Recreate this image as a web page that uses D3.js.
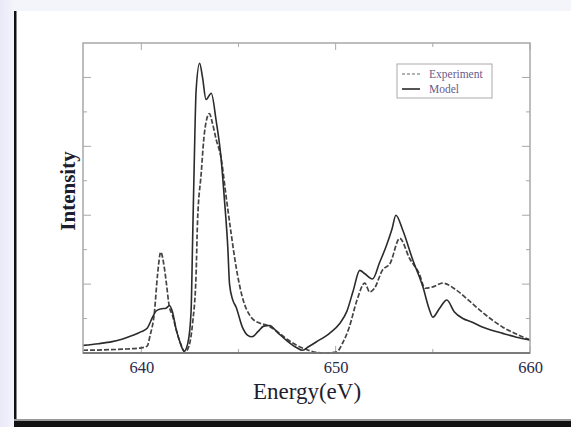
<!DOCTYPE html>
<html>
<head>
<meta charset="utf-8">
<script src="https://cdn.jsdelivr.net/npm/d3@7"></script>
<style>
  html, body { margin: 0; padding: 0; background: #fff; }
  svg { display: block; }
</style>
</head>
<body>
<svg id="chart" width="571" height="427"></svg>
<script>
// ---- data ----
const modelEnergy = [637.0, 637.8, 638.5, 639.0, 639.5, 640.0, 640.3, 640.58, 640.76, 641.0, 641.27, 641.45, 641.6, 641.8, 642.0, 642.2, 642.4, 642.56, 642.64, 642.73, 642.82, 643.0, 643.15, 643.33, 643.6, 643.85, 644.1, 644.28, 644.45, 644.54, 644.7, 644.88, 645.2, 645.46, 645.7, 646.0, 646.3, 646.6, 647.0, 647.5, 648.0, 648.3, 648.6, 649.0, 649.7, 650.2, 650.57, 650.9, 651.24, 651.5, 651.9, 652.27, 652.6, 652.9, 653.1, 653.45, 653.97, 654.5, 654.8, 655.0, 655.35, 655.72, 656.1, 656.55, 657.0, 657.58, 658.6, 659.3, 660.0];
const modelIntensity = [0.22, 0.27, 0.33, 0.40, 0.50, 0.62, 0.72, 1.04, 1.22, 1.28, 1.30, 1.38, 1.20, 0.67, 0.30, 0.05, 0.30, 1.20, 3.27, 5.68, 7.62, 8.41, 8.00, 7.36, 7.54, 6.75, 5.68, 4.43, 3.07, 2.00, 1.55, 1.33, 0.75, 0.52, 0.47, 0.62, 0.78, 0.80, 0.60, 0.35, 0.15, 0.08, 0.18, 0.32, 0.58, 0.85, 1.20, 1.80, 2.40, 2.30, 2.15, 2.64, 3.10, 3.60, 4.00, 3.57, 2.70, 1.90, 1.30, 1.04, 1.30, 1.54, 1.20, 1.00, 0.90, 0.75, 0.57, 0.46, 0.38];

const expEnergy = [637.0, 638.0, 639.0, 640.0, 640.3, 640.45, 640.67, 640.84, 641.0, 641.18, 641.27, 641.44, 641.6, 641.8, 642.0, 642.25, 642.45, 642.64, 642.82, 642.89, 643.08, 643.25, 643.5, 643.66, 643.85, 644.1, 644.37, 644.62, 644.88, 645.2, 645.65, 646.08, 646.5, 647.0, 647.5, 648.0, 648.5, 649.0, 649.5, 650.05, 650.36, 650.7, 651.1, 651.5, 651.75, 652.0, 652.4, 652.8, 653.3, 653.8, 654.3, 654.6, 655.0, 655.5, 656.2, 657.0, 657.6, 658.6, 659.3, 660.0];
const expIntensity = [0.08, 0.09, 0.11, 0.15, 0.20, 0.50, 1.16, 2.30, 2.93, 2.49, 2.12, 1.35, 1.10, 0.67, 0.30, 0.03, 0.20, 0.87, 2.30, 3.77, 5.20, 6.40, 6.95, 6.67, 6.20, 5.68, 4.52, 3.48, 2.49, 1.62, 1.04, 0.87, 0.80, 0.62, 0.40, 0.22, 0.10, 0.02, 0.00, 0.03, 0.29, 0.75, 1.54, 2.03, 1.77, 1.88, 2.40, 2.60, 3.33, 2.75, 2.30, 1.88, 1.92, 2.03, 1.83, 1.45, 1.16, 0.75, 0.55, 0.38];

const xMajorTicks = [640, 650, 660];
const xMinorTicks = [645, 655];
const yTicks = [1, 2, 3, 4, 5, 6, 7, 8];
const seriesNames = ["Experiment", "Model"];
const xTitle = "Energy(eV)";
const yTitle = "Intensity";

// ---- layout ----
const svg = d3.select("#chart");
const W = 571, H = 427;
const L = 83, R = 530, T = 43, B = 353;

// page decoration (framed slide)
const defs = svg.append("defs");
const grad = defs.append("linearGradient").attr("id", "lg").attr("x1", 0).attr("x2", 1);
grad.append("stop").attr("offset", 0).attr("stop-color", "#e9e9f8");
grad.append("stop").attr("offset", 1).attr("stop-color", "#f4f4fc");
svg.append("rect").attr("width", W).attr("height", H).attr("fill", "#fff");
svg.append("rect").attr("x", 0).attr("y", 0).attr("width", W).attr("height", 11).attr("fill", "#f4f4fb");
svg.append("rect").attr("x", 0).attr("y", 0).attr("width", 14).attr("height", H).attr("fill", "url(#lg)");
svg.append("rect").attr("x", 14).attr("y", 11).attr("width", 2.5).attr("height", H - 11).attr("fill", "#111");
svg.append("rect").attr("x", 14).attr("y", 419).attr("width", W - 14).attr("height", 2).attr("fill", "#999");
svg.append("rect").attr("x", 14).attr("y", 421).attr("width", W - 14).attr("height", 6).attr("fill", "#111");

const x = d3.scaleLinear().domain([637, 660]).range([L, R]);
const y = d3.scaleLinear().domain([0, 9]).range([B, T]);

const frameColor = "#a8a8a8";

// ticks (inward, mirrored)
const g = svg.append("g");
xMajorTicks.concat(xMinorTicks).forEach(v => {
  const len = xMajorTicks.includes(v) ? 7 : 4;
  g.append("line").attr("x1", x(v)).attr("x2", x(v)).attr("y1", B).attr("y2", B - len)
    .attr("stroke", frameColor).attr("stroke-width", 1);
  g.append("line").attr("x1", x(v)).attr("x2", x(v)).attr("y1", T).attr("y2", T + len)
    .attr("stroke", frameColor).attr("stroke-width", 1);
});
yTicks.forEach(v => {
  const len = v % 2 === 0 ? 8 : 4;
  g.append("line").attr("x1", L).attr("x2", L + len).attr("y1", y(v)).attr("y2", y(v))
    .attr("stroke", frameColor).attr("stroke-width", 1);
  g.append("line").attr("x1", R).attr("x2", R - len).attr("y1", y(v)).attr("y2", y(v))
    .attr("stroke", frameColor).attr("stroke-width", 1);
});

// x axis labels via d3 axis
const xAxis = d3.axisBottom(x).tickValues(xMajorTicks).tickSize(0).tickPadding(8).tickFormat(d3.format("d"));
const ax = svg.append("g").attr("transform", `translate(0,${B})`).call(xAxis);
ax.select(".domain").remove();
ax.selectAll("text").attr("font-family", "'Liberation Serif', serif").attr("font-size", 16.5)
  .attr("fill", "#2a2a4a");

// curves
const line = d3.line().x(d => x(d[0])).y(d => y(d[1])).curve(d3.curveMonotoneX);
const modelData = modelEnergy.map((e, i) => [e, modelIntensity[i]]);
const expData = expEnergy.map((e, i) => [e, expIntensity[i]]);

const clip = defs.append("clipPath").attr("id", "plotclip");
clip.append("rect").attr("x", L).attr("y", T).attr("width", R - L).attr("height", B - T + 2);

const plot = svg.append("g").attr("clip-path", "url(#plotclip)");
plot.append("path").datum(expData).attr("d", line).attr("fill", "none")
  .attr("stroke", "#444").attr("stroke-width", 1.7).attr("stroke-dasharray", "5,2");
plot.append("path").datum(modelData).attr("d", line).attr("fill", "none")
  .attr("stroke", "#2b2b2b").attr("stroke-width", 1.6);

// frame
svg.append("rect").attr("x", L).attr("y", T).attr("width", R - L).attr("height", B - T)
  .attr("fill", "none").attr("stroke", frameColor).attr("stroke-width", 1.5);
svg.append("line").attr("x1", L).attr("x2", R).attr("y1", B).attr("y2", B)
  .attr("stroke", "#666").attr("stroke-width", 1.5);

// axis titles
svg.append("text").attr("x", 307).attr("y", 399).attr("text-anchor", "middle")
  .attr("font-family", "'Liberation Serif', serif").attr("font-size", 23).attr("fill", "#1e1e2e")
  .text(xTitle);
svg.append("text").attr("transform", `translate(75,${191}) rotate(-90)`).attr("text-anchor", "middle")
  .attr("font-family", "'Liberation Serif', serif").attr("font-weight", "bold").attr("font-size", 21).attr("fill", "#1e1e2e")
  .text(yTitle);

// legend
const lg = svg.append("g");
lg.append("rect").attr("x", 397).attr("y", 64).attr("width", 95).attr("height", 34)
  .attr("fill", "#fff").attr("stroke", "#aaa").attr("stroke-width", 1);
lg.append("line").attr("x1", 402).attr("x2", 420).attr("y1", 74).attr("y2", 74)
  .attr("stroke", "#666").attr("stroke-width", 1.2).attr("stroke-dasharray", "3,2");
lg.append("line").attr("x1", 402).attr("x2", 420).attr("y1", 89).attr("y2", 89)
  .attr("stroke", "#555").attr("stroke-width", 2);
seriesNames.forEach((n, i) => {
  lg.append("text").attr("x", 429).attr("y", 78 + i * 15)
    .attr("font-family", "'Liberation Serif', serif").attr("font-size", 11.5).attr("fill", "#6a5a8a")
    .text(n);
});
</script>
</body>
</html>
